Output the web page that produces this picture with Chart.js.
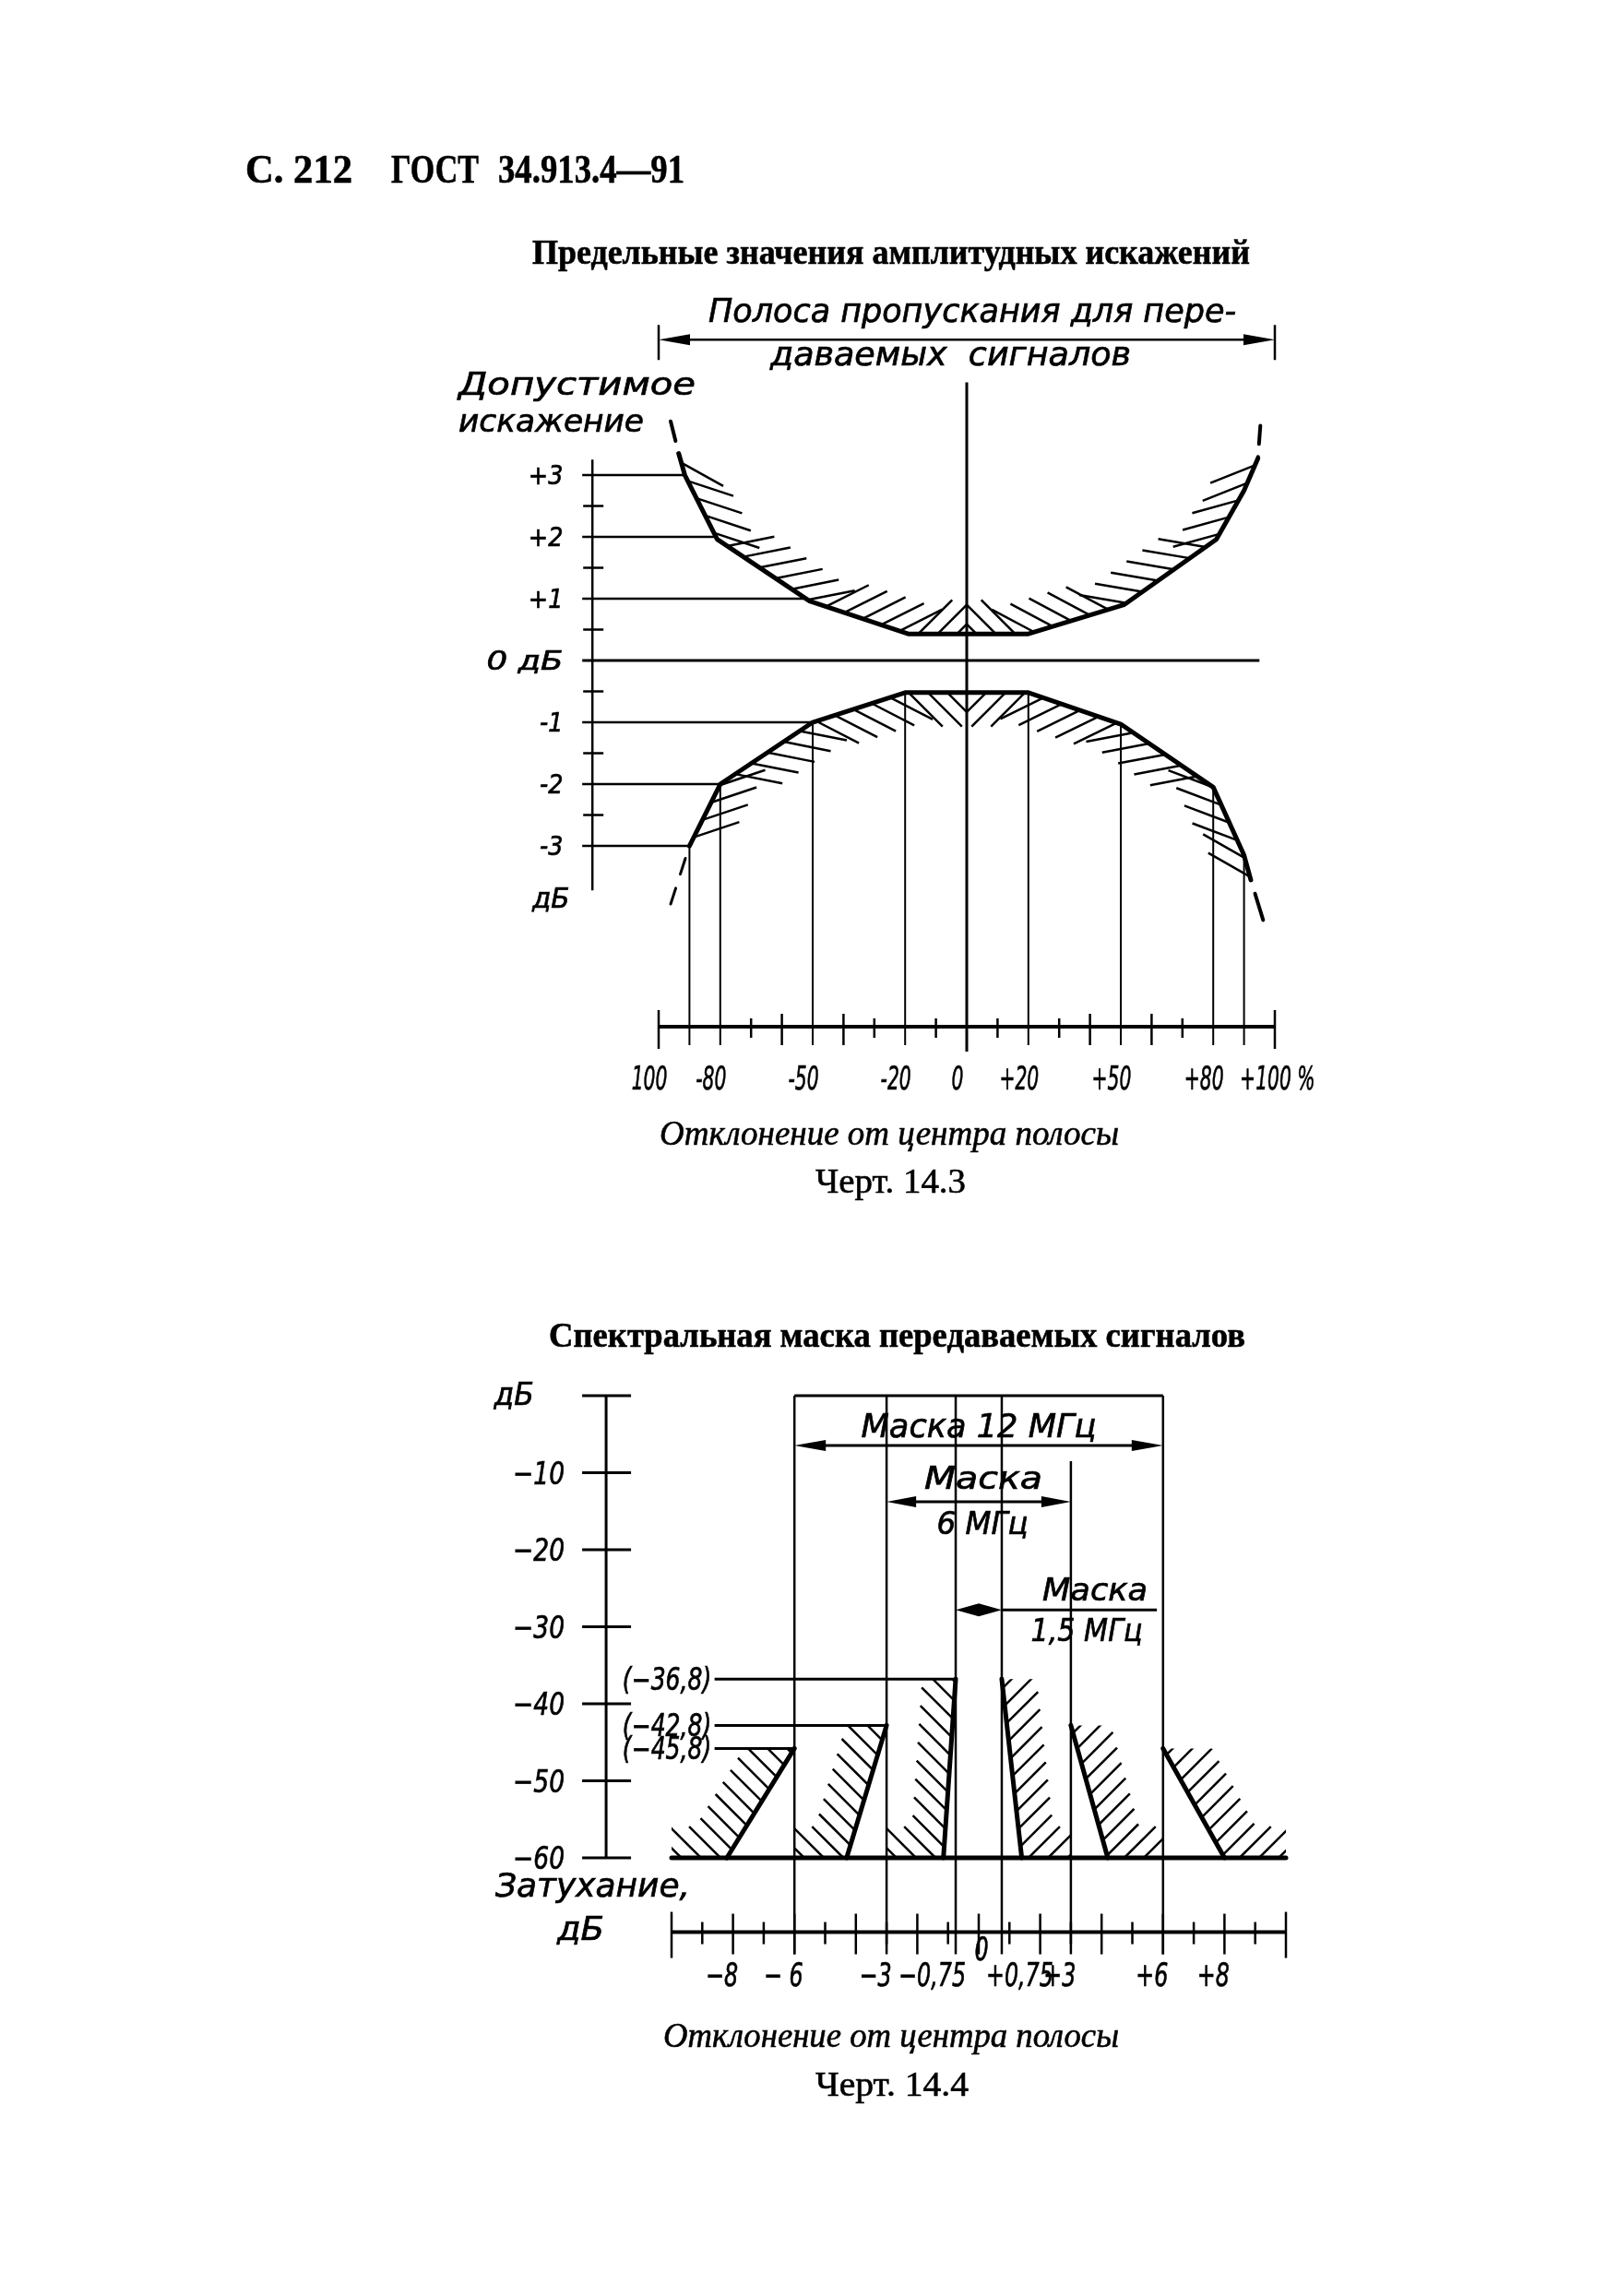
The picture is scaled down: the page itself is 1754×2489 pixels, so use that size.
<!DOCTYPE html>
<html lang="ru">
<head>
<meta charset="utf-8">
<title>ГОСТ 34.913.4—91, черт. 14.3 и 14.4</title>
<script src="https://cdn.jsdelivr.net/npm/chart.js@4.4.1/dist/chart.umd.min.js"></script>
<style>
  html, body { margin: 0; padding: 0; background: #fff; }
  body { position: relative; width: 1754px; height: 2489px; overflow: hidden; }
  canvas { position: absolute; left: 0; top: 0; }
  .t { position: absolute; white-space: nowrap; color: #000; transform-origin: 0 0; -webkit-text-stroke: 0.6px #000; }
</style>
</head>
<body>
<canvas id="chart143" width="1754" height="2489"></canvas>
<canvas id="chart144" width="1754" height="2489"></canvas>
<script>
const INK = '#000';
const GOST = "'DejaVu Sans', 'Liberation Sans', sans-serif";

// Черт. 14.3 - отклонение от центра полосы, %
const bandTicks = [-100, -90, -80, -70, -60, -50, -40, -30, -20, -10, 0, 10, 20, 30, 40, 50, 60, 70, 80, 90, 100];
const bandLabelAt = [-100, -80, -50, -20, 0, 20, 50, 80, 100];
const bandLabels = ['100', '-80', '-50', '-20', '0', '+20', '+50', '+80', '+100 %'];
// допустимое искажение, дБ
const levelTicks = [3, 2.5, 2, 1.5, 1, 0.5, 0, -0.5, -1, -1.5, -2, -2.5, -3];
const levelLabelAt = [3, 2, 1, 0, -1, -2, -3];
const levelLabels = ['+3', '+2', '+1', '0 дБ', '-1', '-2', '-3'];

// верхняя граница (сплошная) и пунктирные продолжения
const upperPct = [-93.5, -91.5, -81, -51, -19, 20, 51, 81, 90, 94.5];
const upperDb = [3.35, 3.0, 1.96, 0.96, 0.43, 0.43, 0.9, 1.96, 2.75, 3.27];
const upperTailLPct = [-96.1, -93.5];
const upperTailLDb = [3.87, 3.35];
const upperTailRPct = [95.3, 94.5];
const upperTailRDb = [3.8, 3.27];
// нижняя граница
const lowerPct = [-90, -80, -50, -20, 20, 50, 80, 90, 92.2];
const lowerDb = [-3.0, -2.0, -1.0, -0.52, -0.52, -1.03, -2.05, -3.15, -3.55];
const lowerTailLPct = [-96.1, -90];
const lowerTailLDb = [-3.94, -3.0];
const lowerTailRPct = [96.2, 92.2];
const lowerTailRDb = [-4.2, -3.55];
const dropPct = [-90, -80, -50, -20, 20, 50, 80, 90];

// Черт. 14.4 - отклонение от центра полосы, МГц
const offsetTicks = [-10, -9, -8, -7, -6, -5, -4, -3, -2, -1, 0, 1, 2, 3, 4, 5, 6, 7, 8, 9, 10];
const offsetLabelAt = [-8, -6, -3, -0.75, 0, 0.75, 3, 6, 8];
const offsetLabels = ['\u22128', '\u2212 6', '\u22123', '\u22120,75', '0', '+0,75', '+3', '+6', '+8'];
// затухание, дБ
const attTicks = [0, -10, -20, -30, -40, -50, -60];
const attLabels = ['дБ', '\u221210', '\u221220', '\u221230', '\u221240', '\u221250', '\u221260'];
// маска: верх каждой наклонной границы и её основание
const maskEdgeMHz = [-6, -3, -0.75, 0.75, 3, 6];
const maskTopDb = [-45.8, -42.8, -36.8, -36.8, -42.8, -45.8];
const maskFootMHz = [-8.2, -4.3, -1.15, 1.4, 4.2, 8.0];
const maskFloorDb = -60;
const maskLevelDb = [-36.8, -42.8, -45.8];
const maskLevelLabels = ['(\u221236,8)', '(\u221242,8)', '(\u221245,8)'];

const pts = (xs, ys) => xs.map((v, i) => ({ x: v, y: ys[i] }));

function seg(ctx, x1, y1, x2, y2, w) {
  ctx.lineWidth = w;
  ctx.beginPath();
  ctx.moveTo(x1, y1);
  ctx.lineTo(x2, y2);
  ctx.stroke();
}

// text in the drawing font; sx squeezes horizontally, width fits exactly
function label(ctx, s, x, y, o) {
  ctx.save();
  ctx.font = `oblique ${o.size}px ${GOST}`;
  const w = ctx.measureText(s).width;
  const k = o.width ? o.width / w : (o.sx || 1);
  const left = o.align === 'right' ? x - w * k : o.align === 'center' ? x - w * k / 2 : x;
  ctx.translate(left, y);
  ctx.scale(k, 1);
  ctx.textAlign = 'left';
  ctx.textBaseline = 'alphabetic';
  ctx.lineWidth = 0.7;
  ctx.fillText(s, 0, 0);
  ctx.strokeText(s, 0, 0);
  ctx.restore();
}

function textWidth(ctx, s, size, sx) {
  ctx.save();
  ctx.font = `oblique ${size}px ${GOST}`;
  const w = ctx.measureText(s).width * sx;
  ctx.restore();
  return w;
}

function arrowHead(ctx, x, y, dir, len, half) {
  ctx.beginPath();
  ctx.moveTo(x, y);
  ctx.lineTo(x - dir * len, y - half);
  ctx.lineTo(x - dir * len, y + half);
  ctx.closePath();
  ctx.fill();
}

function interp(xs, ys, v) {
  for (let i = 0; i < xs.length - 1; i++) {
    if (v >= xs[i] && v <= xs[i + 1]) {
      return ys[i] + (ys[i + 1] - ys[i]) * (v - xs[i]) / (xs[i + 1] - xs[i]);
    }
  }
  return ys[v < xs[0] ? 0 : ys.length - 1];
}

// x where the left branch of a curve reaches a level
function leftCross(xs, ys, level) {
  for (let i = 0; i < xs.length - 1 && xs[i] < 0; i++) {
    const a = ys[i], b = ys[i + 1];
    if ((level - a) * (level - b) <= 0 && a !== b) {
      return xs[i] + (xs[i + 1] - xs[i]) * (level - a) / (b - a);
    }
  }
  return xs[0];
}

// short strokes at 45 deg to the curve, on the hatched side, stopped at the centre line
function hatchCurve(ctx, p, side, cx, step, len) {
  let carry = step / 2;
  for (let i = 0; i < p.length - 1; i++) {
    const dx = p[i + 1].x - p[i].x, dy = p[i + 1].y - p[i].y, L = Math.hypot(dx, dy);
    const ux = dx / L, uy = dy / L;
    let nx = -uy, ny = ux;
    if (ny * side < 0) { nx = -nx; ny = -ny; }
    let s = carry;
    for (; s <= L; s += step) {
      const px = p[i].x + ux * s, py = p[i].y + uy * s;
      const tx = px < cx ? ux : -ux, ty = px < cx ? uy : -uy;
      let ddx = tx + nx, ddy = ty + ny;
      const dl = Math.hypot(ddx, ddy);
      ddx /= dl; ddy /= dl;
      let ex = px + ddx * len, ey = py + ddy * len;
      if ((px - cx) * (ex - cx) < 0) {
        const t = (cx - px) / (ex - px);
        ex = cx;
        ey = py + (ey - py) * t;
      }
      seg(ctx, px, py, ex, ey, 2.5);
    }
    carry = s - L;
  }
}

// parallel 45 deg hatch band along a sloped mask edge and the floor line
function hatchBand(ctx, T, B, topY, baseY, outerX, dir, gap, len) {
  ctx.save();
  ctx.beginPath();
  ctx.moveTo(outerX, topY);
  ctx.lineTo(T.x, topY);
  ctx.lineTo(B.x, baseY);
  ctx.lineTo(outerX, baseY);
  ctx.closePath();
  ctx.clip();
  const O = { x: outerX, y: baseY };
  const k = q => q.x + dir * q.y;
  const ks = [k(T), k(B), k(O)];
  const kmin = Math.min(...ks), kmax = Math.max(...ks);
  const step = gap * Math.SQRT2;
  const d = { x: dir / Math.SQRT2, y: -1 / Math.SQRT2 };
  for (let c = kmin + step / 2; c < kmax; c += step) {
    for (const [p0, p1] of [[T, B], [B, O]]) {
      const k0 = k(p0), k1 = k(p1);
      if (k0 === k1 || (c - k0) * (c - k1) > 0) continue;
      const t = (c - k0) / (k1 - k0);
      const sx = p0.x + t * (p1.x - p0.x), sy = p0.y + t * (p1.y - p0.y);
      seg(ctx, sx, sy, sx + d.x * len, sy + d.y * len, 2.5);
      break;
    }
  }
  ctx.restore();
}

const sketch143 = {
  id: 'sketch143',
  beforeDatasetsDraw(chart) {
    const { ctx, chartArea, scales: { x, y } } = chart;
    const X = v => x.getPixelForValue(v), Y = v => y.getPixelForValue(v);
    ctx.save();
    ctx.strokeStyle = INK;
    ctx.fillStyle = INK;

    // hatching inside the limits
    hatchCurve(ctx, pts(upperPct, upperDb).map(q => ({ x: X(q.x), y: Y(q.y) })), -1, X(0), 21, 52);
    hatchCurve(ctx, pts(lowerPct, lowerDb).map(q => ({ x: X(q.x), y: Y(q.y) })), 1, X(0), 21, 52);

    // deviation axis
    const ay = chartArea.bottom;
    seg(ctx, X(-100), ay, X(100), ay, 4);
    bandTicks.forEach(v => {
      if (v === 0 || dropPct.includes(v)) return;
      const [a, b] = Math.abs(v) === 100 ? [18, 24] : v % 20 === 0 ? [14, 20] : [9, 12];
      seg(ctx, X(v), ay - a, X(v), ay + b, 2.5);
    });
    bandLabelAt.forEach((v, i) => {
      const s = bandLabels[i];
      const nw = textWidth(ctx, s.split(' ')[0], 35, 0.58);
      label(ctx, s, X(v) - 10 - nw / 2, ay + 68, { size: 35, sx: 0.58 });
    });

    // verticals from the lower limit down to the axis
    dropPct.forEach(v => seg(ctx, X(v), Y(interp(lowerPct, lowerDb, v)), X(v), ay + 20, 2));
    seg(ctx, X(0), Y(4.5), X(0), ay + 27, 3);

    // distortion axis with leaders to the limits
    const axX = X(-121.5);
    seg(ctx, axX, Y(3.25), axX, Y(-3.72), 2.5);
    levelTicks.forEach(v => {
      if (!levelLabelAt.includes(v)) {
        seg(ctx, axX - 10, Y(v), axX + 12, Y(v), 2.5);
        return;
      }
      let to;
      if (v > 0) to = X(leftCross(upperPct, upperDb, v));
      else if (v < 0) to = X(leftCross(lowerPct, lowerDb, v));
      else to = X(95);
      seg(ctx, X(-124.8), Y(v), to, Y(v), v === 0 ? 3 : 2.5);
    });
    levelLabelAt.forEach((v, i) => {
      const o = v === 0 ? { size: 29, width: 83, align: 'right' } : { size: 29, sx: 0.88, align: 'right' };
      label(ctx, levelLabels[i], X(-131), Y(v) + 10, o);
    });
    label(ctx, 'дБ', axX - 45, Y(-3.72) + 19, { size: 31, sx: 0.95, align: 'center' });
    label(ctx, 'Допустимое', 497, 428, { size: 33, width: 257 });
    label(ctx, 'искажение', 497, 468, { size: 33, width: 201 });

    // passband dimension
    const ya = Y(5.19);
    seg(ctx, X(-100), ya - 16, X(-100), ya + 22, 2.5);
    seg(ctx, X(100), ya - 16, X(100), ya + 22, 2.5);
    seg(ctx, X(-100) + 20, ya, X(100) - 20, ya, 2.5);
    arrowHead(ctx, X(-100), ya, -1, 34, 6);
    arrowHead(ctx, X(100), ya, 1, 34, 6);
    label(ctx, 'Полоса пропускания для пере-', 768, 349, { size: 35, width: 572 });
    label(ctx, 'даваемых  сигналов', 835, 396, { size: 35, width: 391 });
    ctx.restore();
  }
};

const sketch144 = {
  id: 'sketch144',
  beforeDatasetsDraw(chart) {
    const { ctx, scales: { x, y } } = chart;
    const X = v => x.getPixelForValue(v), Y = v => y.getPixelForValue(v);
    ctx.save();
    ctx.strokeStyle = INK;
    ctx.fillStyle = INK;

    // hatching outside each sloped edge, bounded by the next mask line
    maskEdgeMHz.forEach((e, i) => {
      const dir = e < 0 ? -1 : 1;
      const outward = maskEdgeMHz.filter(m => dir < 0 ? m < e : m > e);
      const outer = outward.length ? (dir < 0 ? Math.max(...outward) : Math.min(...outward)) : (dir < 0 ? x.min : x.max);
      hatchBand(ctx,
        { x: X(e), y: Y(maskTopDb[i]) }, { x: X(maskFootMHz[i]), y: Y(maskFloorDb) },
        Y(maskTopDb[i]), Y(maskFloorDb), X(outer), dir, 15, 48);
    });

    // mask boundaries
    seg(ctx, X(-6), Y(0), X(6), Y(0), 3);
    maskEdgeMHz.forEach(e => seg(ctx, X(e), Y(e === 3 ? -8.5 : 0), X(e), Y(-72.5), 2.5));

    // level leaders
    maskLevelDb.forEach((lv, i) => {
      const j = maskTopDb.findIndex((d, n) => d === lv && maskEdgeMHz[n] < 0);
      seg(ctx, X(-8.6), Y(lv), X(maskEdgeMHz[j]), Y(lv), 3);
      label(ctx, maskLevelLabels[i], X(-8.7), Y(lv) + 12, { size: 33, sx: 0.76, align: 'right' });
    });

    // attenuation axis
    const axX = X(-12.13);
    seg(ctx, axX, Y(0), axX, Y(-60), 3);
    attTicks.forEach((v, i) => {
      seg(ctx, axX - 26, Y(v), axX + 27, Y(v), 3);
      if (v === 0) label(ctx, attLabels[i], axX - 100, Y(v) + 10, { size: 33, sx: 0.95, align: 'center' });
      else label(ctx, attLabels[i], axX - 45, Y(v) + 12, { size: 34, sx: 0.78, align: 'right' });
    });
    label(ctx, 'Затухание,', 537, 2056, { size: 35, width: 211 });
    label(ctx, 'дБ', 604, 2103, { size: 35, width: 51 });

    // offset axis
    const ay = Y(-69.65);
    seg(ctx, X(-10), ay, X(10), ay, 4);
    offsetTicks.forEach(v => {
      const [a, b] = Math.abs(v) === 10 ? [22, 28] : v % 2 === 0 ? [20, 24] : [11, 13];
      seg(ctx, X(v), ay - a, X(v), ay + b, 2.5);
    });
    offsetLabelAt.forEach((v, i) => {
      const s = offsetLabels[i], o = { size: 35, sx: 0.68 };
      if (v === 0) label(ctx, s, X(v) + 3, ay + 30, Object.assign({ align: 'center' }, o));
      else if (Math.abs(v) < 1) label(ctx, s, X(v) + (v < 0 ? 11 : -17), ay + 58, Object.assign({ align: v < 0 ? 'right' : 'left' }, o));
      else label(ctx, s, X(v) - 12, ay + 58, Object.assign({ align: 'center' }, o));
    });

    // mask width dimensions
    const y12 = Y(-6.46), y6 = Y(-13.76), y15 = Y(-27.8);
    seg(ctx, X(-6) + 20, y12, X(6) - 20, y12, 3);
    arrowHead(ctx, X(-6), y12, -1, 34, 6);
    arrowHead(ctx, X(6), y12, 1, 34, 6);
    label(ctx, 'Маска 12 МГц', X(0), y12 - 9, { size: 35, width: 255, align: 'center' });
    seg(ctx, X(-3) + 20, y6, X(3) - 20, y6, 3);
    arrowHead(ctx, X(-3), y6, -1, 32, 6);
    arrowHead(ctx, X(3), y6, 1, 32, 6);
    label(ctx, 'Маска', 1066, y6 - 14, { size: 33, width: 128, align: 'center' });
    label(ctx, '6 МГц', 1065, y6 + 35, { size: 33, width: 99, align: 'center' });
    const mid = (X(-0.75) + X(0.75)) / 2;
    arrowHead(ctx, X(-0.75), y15, -1, mid - X(-0.75), 7);
    arrowHead(ctx, X(0.75), y15, 1, X(0.75) - mid, 7);
    seg(ctx, X(0.75), y15, X(5.8), y15, 3);
    label(ctx, 'Маска', 1187, y15 - 10, { size: 33, width: 114, align: 'center' });
    label(ctx, '1,5 МГц', 1178, y15 + 34, { size: 33, width: 121, align: 'center' });
    ctx.restore();
  }
};

const lineStyle = d => Object.assign({ borderColor: INK, pointRadius: 0, tension: 0, fill: false, clip: false,
  borderJoinStyle: 'round', borderCapStyle: 'round' }, d);

new Chart(document.getElementById('chart143'), {
  type: 'line',
  data: {
    datasets: [
      { data: pts(upperPct, upperDb), borderWidth: 5 },
      { data: pts(lowerPct, lowerDb), borderWidth: 5 },
      { data: pts(upperTailLPct, upperTailLDb), borderWidth: 4, borderDash: [22, 14] },
      { data: pts(upperTailRPct, upperTailRDb), borderWidth: 4, borderDash: [20, 14] },
      { data: pts(lowerTailLPct, lowerTailLDb), borderWidth: 3, borderDash: [18, 16] },
      { data: pts(lowerTailRPct, lowerTailRDb), borderWidth: 4, borderDash: [30, 16] }
    ].map(lineStyle)
  },
  options: {
    responsive: false,
    animation: false,
    devicePixelRatio: 1,
    layout: { padding: { left: 714, right: 372, top: 381, bottom: 1376 } },
    plugins: { legend: { display: false }, tooltip: { enabled: false } },
    scales: {
      x: { type: 'linear', min: -100, max: 100, display: false },
      y: { type: 'linear', min: -5.925, max: 5, display: false }
    }
  },
  plugins: [sketch143]
});

new Chart(document.getElementById('chart144'), {
  type: 'line',
  data: {
    datasets: maskEdgeMHz.map((e, i) => ({
      data: [{ x: e, y: maskTopDb[i] }, { x: maskFootMHz[i], y: maskFloorDb }], borderWidth: 5
    })).concat([{ data: [{ x: -10, y: maskFloorDb }, { x: 10, y: maskFloorDb }], borderWidth: 5 }]).map(lineStyle)
  },
  options: {
    responsive: false,
    animation: false,
    devicePixelRatio: 1,
    layout: { padding: { left: 728, right: 360, top: 1513, bottom: 475 } },
    plugins: { legend: { display: false }, tooltip: { enabled: false } },
    scales: {
      x: { type: 'linear', min: -10, max: 10, display: false },
      y: { type: 'linear', min: -60, max: 0, display: false }
    }
  },
  plugins: [sketch144]
});

// printed page text
function placeText(s, left, baseline, width, size, style) {
  const el = document.createElement('div');
  el.className = 't';
  el.textContent = s;
  el.style.font = `${style} ${size}px 'Liberation Serif', 'DejaVu Serif', serif`;
  el.style.lineHeight = '1';
  el.style.left = left + 'px';
  el.style.top = (baseline - 0.8375 * size) + 'px';
  document.body.appendChild(el);
  el.style.transform = `scaleX(${width / el.getBoundingClientRect().width})`;
}

placeText('С. 212', 266, 199, 116, 44, 'bold');
placeText('ГОСТ', 424, 199, 95, 44, 'bold');
placeText('34.913.4—91', 540, 199, 202, 44, 'bold');
placeText('Предельные значения амплитудных искажений', 577, 286, 778, 37, 'bold');
placeText('Отклонение от центра полосы', 715, 1241, 498, 37, 'italic');
placeText('Черт. 14.3', 884, 1293, 163, 37, 'normal');
placeText('Спектральная маска передаваемых сигналов', 595, 1460, 755, 37, 'bold');
placeText('Отклонение от центра полосы', 719, 2219, 494, 37, 'italic');
placeText('Черт. 14.4', 884, 2272, 166, 37, 'normal');
</script>
</body>
</html>
